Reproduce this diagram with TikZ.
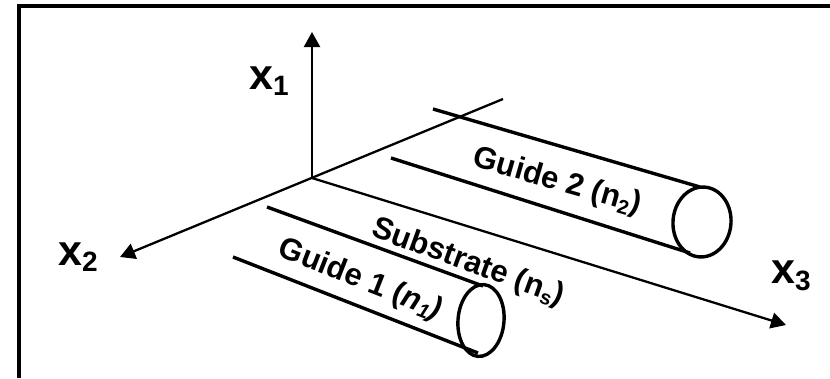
\documentclass[tikz,border=0pt]{standalone}
\usepackage{fontspec}
\setmainfont{Liberation Sans}
\usetikzlibrary{arrows.meta}
\newcommand{\axislabel}[2]{\fontsize{43}{43}\bfseries\selectfont #1\raisebox{-6.5pt}{\fontsize{28}{28}\selectfont #2}}
\newcommand{\smallsub}[1]{\raisebox{-5pt}{\fontsize{20}{20}\selectfont #1}}
\tikzset{
  frameline/.style={line width=3.6pt,line join=miter},
  axisline/.style={line width=2.3pt},
  axisarrow/.style={axisline,-{Triangle[length=15pt,width=16pt]}},
  guideline/.style={line width=3.4pt},
  axislabelnode/.style={inner sep=0pt,anchor=center},
  guidelabel/.style={inner sep=0pt,anchor=center,font=\fontsize{31}{31}\bfseries\selectfont}
}
\begin{document}
\begin{tikzpicture}[x=1pt,y=-1pt]
\useasboundingbox (0,0) rectangle (830,378);
\fill[white] (0,0) rectangle (830,378);
% frame corners
\coordinate (fa) at (19,378);
\coordinate (fb) at (19,6);
\coordinate (fc) at (830,6);
\draw[frameline] (fa) -- (fb) -- (fc);
% axes
\coordinate (o) at (312,178);
\coordinate (x1tip) at (312,32);
\coordinate (x2tip) at (120,257);
\coordinate (x3tip) at (786,325);
\coordinate (x2back) at (503,99);
\draw[axisarrow] (o) -- (x1tip);
\draw[axisarrow] (x2back) -- (x2tip);
\draw[axisarrow] (o) -- (x3tip);
% guide 1
\coordinate (g1a) at (267,207);
\coordinate (g1b) at (483,286);
\coordinate (g1c) at (233,257);
\coordinate (g1d) at (478,353);
\draw[guideline] (g1a) -- (g1b);
\draw[guideline] (g1c) -- (g1d);
\draw[guideline] (481,320.5) ellipse[x radius=23,y radius=36,rotate=-5];
% guide 2
\coordinate (g2a) at (433,109);
\coordinate (g2b) at (700,187);
\coordinate (g2c) at (391,158);
\coordinate (g2d) at (690,253);
\draw[guideline] (g2a) -- (g2b);
\draw[guideline] (g2c) -- (g2d);
\draw[guideline] (702,222) ellipse[x radius=29,y radius=35,rotate=-5];
% labels
\node[axislabelnode] (l1) at (269,81) {\axislabel{x}{1}};
\node[axislabelnode] (l2) at (78,257) {\axislabel{x}{2}};
\node[axislabelnode] (l3) at (791,276) {\axislabel{x}{3}};
\node[guidelabel,rotate=-21.5] (t1) at (360,280) {Guide 1 (\textit{n}\smallsub{\textit{1}}\textit{)}};
\node[guidelabel,rotate=-16] (t2) at (557,182) {Guide 2 (n\smallsub{2})};
\node[guidelabel,rotate=-20] (t3) at (468,263) {Substrate (n\smallsub{s})};
\end{tikzpicture}
\end{document}
